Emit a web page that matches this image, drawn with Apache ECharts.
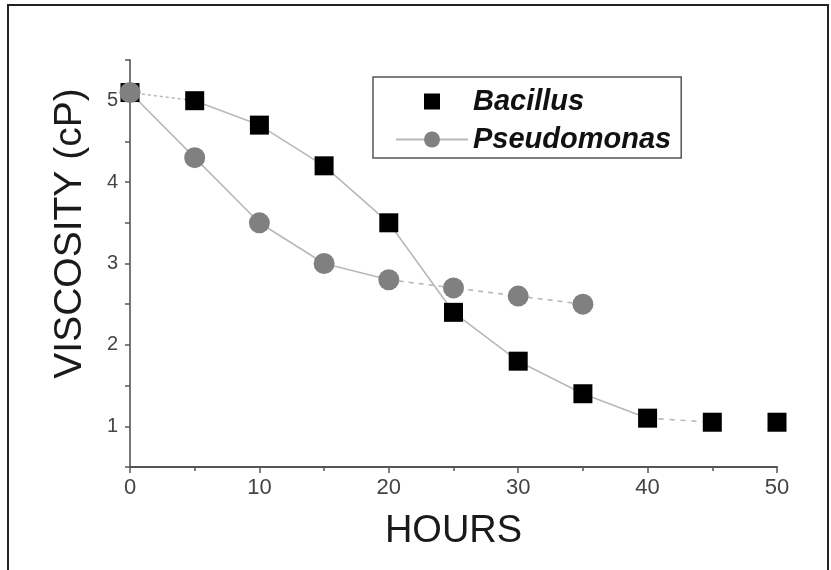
<!DOCTYPE html>
<html>
<head>
<meta charset="utf-8">
<script src="https://cdn.jsdelivr.net/npm/echarts@6/dist/echarts.min.js"></script>
<style>
html,body{margin:0;padding:0;background:#fff;}
#chart{width:831px;height:570px;}
</style>
</head>
<body>
<div id="chart"></div>
<script>
// ---- data ----
const hours = [0, 5, 10, 15, 20, 25, 30, 35, 40, 45, 50];
const bacillus = [5.1, 5.0, 4.7, 4.2, 3.5, 2.4, 1.8, 1.4, 1.1, 1.05, 1.05];
const pseudomonas = [5.1, 4.3, 3.5, 3.0, 2.8, 2.7, 2.6, 2.5];
const xTicks = [0, 10, 20, 30, 40, 50];
const yTicks = [1, 2, 3, 4, 5];

// ---- helpers ----
function pairs(xs, ys, from, to) {
  const out = [];
  for (let i = from; i <= to && i < ys.length; i++) out.push([xs[i], ys[i]]);
  return out;
}
const lineGray = '#b8b8b8';
function seg(name, data, type) {
  return {
    name: name, type: 'line', data: data, symbol: 'none', z: 1,
    lineStyle: { color: lineGray, width: 1.6, type: type },
    silent: true, animation: false
  };
}

const chart = echarts.init(document.getElementById('chart'), null, { renderer: 'canvas' });
chart.setOption({
  animation: false,
  backgroundColor: '#fff',
  graphic: [{
    type: 'rect', z: 100,
    shape: { x: 8, y: 5, width: 820, height: 572 },
    style: { fill: null, stroke: '#222', lineWidth: 2 }
  }],
  grid: { left: 130, right: 54, top: 60, bottom: 103 },
  legend: {
    orient: 'vertical',
    left: 373, top: 77,
    padding: [10, 10, 4, 22],
    itemWidth: 72, itemHeight: 20, itemGap: 9,
    borderColor: '#555', borderWidth: 1.5,
    selectedMode: false,
    textStyle: {
      fontFamily: 'Liberation Sans', fontSize: 29, fontWeight: 'bold',
      fontStyle: 'italic', color: '#111', lineHeight: 24
    },
    data: [
      { name: 'Bacillus', lineStyle: { width: 0, opacity: 0 } },
      { name: 'Pseudomonas', lineStyle: { color: lineGray, width: 2, type: 'solid', opacity: 1 } }
    ]
  },
  xAxis: {
    type: 'value', min: 0, max: 50, interval: 10,
    name: 'HOURS', nameLocation: 'middle', nameGap: 46,
    nameTextStyle: { fontFamily: 'Liberation Sans', fontSize: 38, color: '#1a1a1a' },
    axisLine: { lineStyle: { color: '#555', width: 2 } },
    axisTick: { show: true, length: 6, lineStyle: { color: '#555', width: 1.5 } },
    minorTick: { show: true, splitNumber: 2, length: 4, lineStyle: { color: '#555', width: 1.5 } },
    splitLine: { show: false },
    axisLabel: {
      fontFamily: 'Liberation Sans', fontSize: 22, color: '#444', margin: 10,
      formatter: function (v) { return xTicks.indexOf(v) >= 0 ? String(v) : ''; }
    }
  },
  yAxis: {
    type: 'value', min: 0.5, max: 5.5, interval: 0.5,
    name: 'VISCOSITY (cP)', nameLocation: 'middle', nameGap: 40,
    nameTextStyle: { fontFamily: 'Liberation Sans', fontSize: 39, color: '#1a1a1a', padding: [0, 0, 0, 60] },
    axisLine: { lineStyle: { color: '#777', width: 2 } },
    axisTick: { show: true, length: 5, lineStyle: { color: '#555', width: 1.5 } },
    splitLine: { show: false },
    axisLabel: {
      fontFamily: 'Liberation Sans', fontSize: 20, color: '#444', margin: 12,
      formatter: function (v) { return yTicks.indexOf(v) >= 0 ? String(v) : ''; }
    }
  },
  series: [
    seg('b-dot', pairs(hours, bacillus, 0, 1), [3, 3]),
    seg('b-solid', pairs(hours, bacillus, 1, 8), 'solid'),
    seg('b-dash', pairs(hours, bacillus, 8, 9), [5, 6]),
    seg('p-solid', pairs(hours, pseudomonas, 0, 4), 'solid'),
    seg('p-dash', pairs(hours, pseudomonas, 4, 7), [5, 5]),
    {
      name: 'Bacillus', type: 'line', z: 3,
      data: pairs(hours, bacillus, 0, bacillus.length - 1),
      symbol: 'rect', symbolSize: 19,
      itemStyle: { color: '#000' },
      lineStyle: { width: 0, opacity: 0 }
    },
    {
      name: 'Pseudomonas', type: 'line', z: 4,
      data: pairs(hours, pseudomonas, 0, pseudomonas.length - 1),
      symbol: 'circle', symbolSize: 21,
      itemStyle: { color: '#808080' },
      lineStyle: { width: 0, opacity: 0 }
    }
  ]
});
</script>
</body>
</html>
